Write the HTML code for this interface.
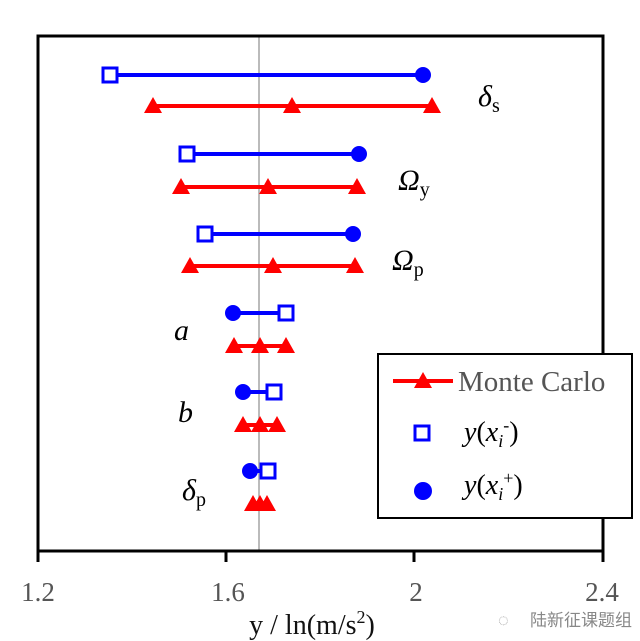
<!DOCTYPE html>
<html><head><style>
body{margin:0;background:#fff;}
svg{display:block;}
text{font-family:"Liberation Serif",serif;}
</style></head><body>
<svg width="640" height="641" viewBox="0 0 640 641" xmlns="http://www.w3.org/2000/svg">
<defs>
<polygon id="tri" points="0,-9 9,7 -9,7" fill="#ff0000"/>
</defs>
<line x1="259" y1="36" x2="259" y2="551" stroke="#bbb" stroke-width="2"/>
<rect x="38" y="36" width="565" height="515" fill="none" stroke="#000" stroke-width="3"/>
<g stroke="#000" stroke-width="3">
<line x1="38" y1="551" x2="38" y2="562"/><line x1="226" y1="551" x2="226" y2="562"/>
<line x1="414" y1="551" x2="414" y2="562"/><line x1="603" y1="551" x2="603" y2="562"/>
</g>
<g font-size="27" fill="#555" text-anchor="middle">
<text x="38" y="601">1.2</text><text x="228" y="601">1.6</text><text x="416" y="601">2</text><text x="602" y="601">2.4</text>
</g>
<text x="312" y="634" font-size="28" text-anchor="middle" fill="#111">y / ln(m/s<tspan font-size="18" dy="-11">2</tspan><tspan dy="11">)</tspan></text>

<g stroke-width="4">
<line x1="110" y1="75" x2="423" y2="75" stroke="#0000ff"/>
<line x1="153" y1="106" x2="432" y2="106" stroke="#ff0000"/>
<line x1="187" y1="154" x2="359" y2="154" stroke="#0000ff"/>
<line x1="181" y1="187" x2="357" y2="187" stroke="#ff0000"/>
<line x1="205" y1="234" x2="353" y2="234" stroke="#0000ff"/>
<line x1="190" y1="266" x2="355" y2="266" stroke="#ff0000"/>
<line x1="233" y1="313" x2="286" y2="313" stroke="#0000ff"/>
<line x1="234" y1="346" x2="286" y2="346" stroke="#ff0000"/>
<line x1="243" y1="392" x2="274" y2="392" stroke="#0000ff"/>
<line x1="243" y1="425" x2="277" y2="425" stroke="#ff0000"/>
<line x1="250" y1="471" x2="268" y2="471" stroke="#0000ff"/>
<line x1="253" y1="504" x2="267" y2="504" stroke="#ff0000"/>
</g>
<g fill="#fff" stroke="#0000ff" stroke-width="3">
<rect x="103" y="68" width="14" height="14"/>
<rect x="180" y="147" width="14" height="14"/>
<rect x="198" y="227" width="14" height="14"/>
<rect x="279" y="306" width="14" height="14"/>
<rect x="267" y="385" width="14" height="14"/>
<rect x="261" y="464" width="14" height="14"/>
</g>
<g fill="#0000ff">
<circle cx="423" cy="75" r="8"/><circle cx="359" cy="154" r="8"/><circle cx="353" cy="234" r="8"/>
<circle cx="233" cy="313" r="8"/><circle cx="243" cy="392" r="8"/><circle cx="250" cy="471" r="8"/>
</g>
<g>
<use href="#tri" x="153" y="106"/><use href="#tri" x="292" y="106"/><use href="#tri" x="432" y="106"/>
<use href="#tri" x="181" y="187"/><use href="#tri" x="268" y="187"/><use href="#tri" x="357" y="187"/>
<use href="#tri" x="190" y="266"/><use href="#tri" x="273" y="266"/><use href="#tri" x="355" y="266"/>
<use href="#tri" x="234" y="346"/><use href="#tri" x="260" y="346"/><use href="#tri" x="286" y="346"/>
<use href="#tri" x="243" y="425"/><use href="#tri" x="260" y="425"/><use href="#tri" x="277" y="425"/>
<use href="#tri" x="253" y="504"/><use href="#tri" x="260" y="504"/><use href="#tri" x="267" y="504"/>
</g>
<g font-size="30" font-style="italic" fill="#000">
<text x="478" y="106">δ<tspan font-style="normal" font-size="20" dy="6">s</tspan></text>
<text x="398" y="190">Ω<tspan font-style="normal" font-size="20" dy="6">y</tspan></text>
<text x="392" y="270">Ω<tspan font-style="normal" font-size="20" dy="6">p</tspan></text>
<text x="174" y="340">a</text>
<text x="178" y="422">b</text>
<text x="182" y="500">δ<tspan font-style="normal" font-size="20" dy="6">p</tspan></text>
</g>
<rect x="378" y="354" width="254" height="164" fill="#fff" stroke="#000" stroke-width="2"/>
<line x1="393" y1="381" x2="453" y2="381" stroke="#ff0000" stroke-width="4"/>
<use href="#tri" x="423" y="381"/>
<text x="458" y="391" font-size="29" fill="#555">Monte Carlo</text>
<rect x="415" y="426" width="14" height="14" fill="#fff" stroke="#0000ff" stroke-width="3"/>
<text x="464" y="441" font-size="28" font-style="italic">y<tspan font-style="normal">(</tspan>x<tspan font-size="18" dy="6">i</tspan><tspan font-size="18" font-style="normal" dy="-16">-</tspan><tspan font-style="normal" dy="10">)</tspan></text>
<circle cx="423" cy="491" r="9" fill="#0000ff"/>
<text x="464" y="494" font-size="28" font-style="italic">y<tspan font-style="normal">(</tspan>x<tspan font-size="18" dy="6">i</tspan><tspan font-size="18" font-style="normal" dy="-16">+</tspan><tspan font-style="normal" dy="10">)</tspan></text>
<text x="530" y="626" font-size="17" fill="#888" font-family="'Noto Sans CJK SC',sans-serif">陆新征课题组</text>
<text x="498" y="626" font-size="18" fill="#aaa">◌</text>
</svg>
</body></html>
